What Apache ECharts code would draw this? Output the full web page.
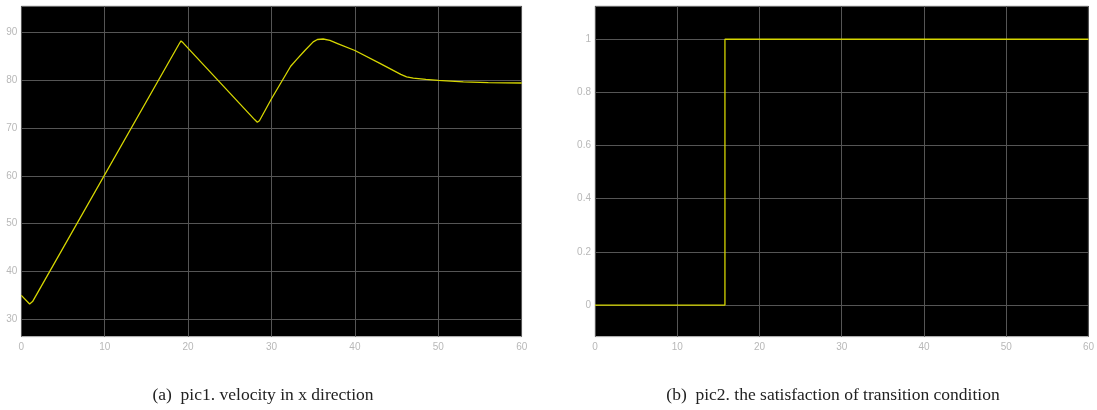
<!DOCTYPE html>
<html><head><meta charset="utf-8">
<style>html,body{margin:0;padding:0;background:#fff}#c{width:1097px;height:410px}</style>
<script src="https://cdn.jsdelivr.net/npm/echarts@6/dist/echarts.min.js"></script>
</head><body><div id="c"></div>
<script>
// Chart (a): velocity in x direction
const velTime = [0, 1.0, 1.15, 1.35, 18.9, 19.15, 19.4, 28.0, 28.3, 28.55, 30.0, 32.3, 33.0, 34.0, 35.0, 35.5, 36.2, 37.0, 38.0, 40.0, 43.0, 45.5, 46.2, 47.0, 48.5, 50.0, 53.0, 56.0, 60.0];
const velValue = [35.0, 33.2, 33.1, 33.7, 87.5, 88.2, 87.8, 71.7, 71.2, 71.5, 76.1, 82.9, 84.3, 86.2, 88.0, 88.5, 88.6, 88.3, 87.6, 86.2, 83.5, 81.2, 80.7, 80.4, 80.15, 79.95, 79.65, 79.5, 79.4];
const velTicks = [30, 40, 50, 60, 70, 80, 90];
// Chart (b): satisfaction of transition condition
const condTime = [0, 15.8, 15.8, 60];
const condValue = [0, 0, 1, 1];
const condTicks = [0, 0.2, 0.4, 0.6, 0.8, 1];
const captionA = '(a)  pic1. velocity in x direction';
const captionB = '(b)  pic2. the satisfaction of transition condition';

const chart = echarts.init(document.getElementById('c'), null, {renderer: 'canvas'});
const lbl = {color: '#b8b8b8', fontSize: 10, fontFamily: 'Liberation Sans', margin: 4};
const split = {show: true, lineStyle: {color: '#555555', width: 1}};
function xAxis(gi) {
  return {type: 'value', gridIndex: gi, min: 0, max: 60, interval: 10,
    axisLine: {show: false}, axisTick: {show: false},
    axisLabel: Object.assign({}, lbl, {margin: 6}), splitLine: split};
}
function yAxis(gi, min, max, ticks) {
  return {type: 'value', gridIndex: gi, min: min, max: max,
    axisLine: {show: false},
    axisTick: {show: false, customValues: ticks},
    axisLabel: Object.assign({}, lbl, {customValues: ticks, formatter: v => String(+v.toFixed(2))}),
    splitLine: split};
}
const yellow = '#d6d600';
const capStyle = {fontFamily: 'Liberation Serif', fontSize: 17.5, fontWeight: 'normal', color: '#222'};
chart.setOption({
  backgroundColor: '#ffffff',
  animation: false,
  title: [
    {text: captionA, left: 258, top: 381, textAlign: 'center', textStyle: capStyle},
    {text: captionB, left: 828, top: 381, textAlign: 'center', textStyle: capStyle}
  ],
  grid: [
    {left: 21.3, right: 575.3, top: 6, bottom: 73.3, show: true, backgroundColor: '#000', borderColor: '#c8c8c8', borderWidth: 1},
    {left: 595, right: 3.7, top: 6, bottom: 73.3, show: true, backgroundColor: '#000', borderColor: '#c8c8c8', borderWidth: 1}
  ],
  xAxis: [xAxis(0), xAxis(1)],
  yAxis: [yAxis(0, 26.36, 95.5, velTicks), yAxis(1, -0.119, 1.125, condTicks)],
  series: [
    {type: 'line', xAxisIndex: 0, yAxisIndex: 0, showSymbol: false,
     data: velTime.map((t, i) => [t, velValue[i]]), lineStyle: {color: yellow, width: 1.3}},
    {type: 'line', xAxisIndex: 1, yAxisIndex: 1, showSymbol: false,
     data: condTime.map((t, i) => [t, condValue[i]]), lineStyle: {color: yellow, width: 1.3}}
  ]
});
</script></body></html>
